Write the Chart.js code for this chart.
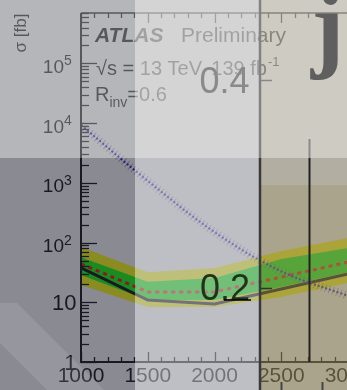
<!DOCTYPE html>
<html>
<head>
<meta charset="utf-8">
<script src="https://cdn.jsdelivr.net/npm/chart.js@4.4.1/dist/chart.umd.min.js"></script>
<style>
  html, body { margin: 0; padding: 0; overflow: hidden; background: #fff; }
  #wrap { position: relative; width: 347px; height: 390px; overflow: hidden; }
  canvas { display: block; }
</style>
</head>
<body>
<div id="wrap"><canvas id="c" width="360" height="390"></canvas></div>
<script>
// Resonance mass points [GeV]
const masses = [1000, 1500, 2000, 2500, 3000];
// 95% CL upper limits on sigma [fb]
const observed = [37.6, 10.9, 9.4, 16.7, 29.7];
const expected = [44, 14.9, 14.9, 26.5, 47];
const expPlus2 = [84, 32, 37.6, 72, 119];
const expPlus1 = [57, 22, 25.5, 53, 81];
const expMinus1 = [28.7, 10.9, 10.9, 18, 32];
const expMinus2 = [19.5, 8.3, 8.3, 12.3, 21];
// Theory prediction [fb]
const theory = [9300, 1080, 150, 33, 12.8];

// Axis ticks and labels
const xTickValues = [1000, 1500, 2000, 2500, 3000];
const xTickLabels = ['1000', '1500', '2000', '2500', '3000'];
const yTickValues = [1, 10, 100, 1000, 10000, 100000];
const yTickBases = ['1', '10', '10', '10', '10', '10'];
const yTickExps = ['', '', '2', '3', '4', '5'];

const X_MIN = 1000, X_MAX = 3000, Y_MIN = 1, Y_MAX = 7e5;
const SANS = '"Liberation Sans", Arial, Helvetica, sans-serif';

const pts = arr => masses.map((m, i) => ({ x: m, y: arr[i] }));

function txt(ctx, s, x, y, font, color, align) {
  ctx.font = font;
  ctx.fillStyle = color;
  ctx.textAlign = align || 'left';
  ctx.textBaseline = 'alphabetic';
  ctx.fillText(s, x, y);
}

const atlasDecor = {
  id: 'atlasDecor',
  beforeDraw(chart) {
    const { ctx, width, height } = chart;
    ctx.save();
    ctx.fillStyle = '#ffffff';
    ctx.fillRect(0, 0, width, height);
    ctx.restore();
  },
  afterDatasetsDraw(chart) {
    const { ctx, chartArea: ca, scales: { x, y } } = chart;
    ctx.save();
    ctx.strokeStyle = '#000';
    // frame
    ctx.lineWidth = 2;
    ctx.beginPath();
    ctx.moveTo(ca.left, ca.top);
    ctx.lineTo(ca.left, ca.bottom);
    ctx.lineTo(ca.right + 12, ca.bottom);
    ctx.stroke();
    ctx.lineWidth = 1.5;
    ctx.beginPath();
    ctx.moveTo(ca.left, ca.top);
    ctx.lineTo(ca.right + 12, ca.top);
    ctx.stroke();

    // x ticks (bottom and mirrored top), pointing inward
    ctx.lineWidth = 1.3;
    for (let v = X_MIN; v <= X_MAX; v += 100) {
      const px = Math.round(x.getPixelForValue(v)) + 0.5;
      const len = v % 500 === 0 ? 10 : 5;
      ctx.beginPath();
      ctx.moveTo(px, ca.bottom); ctx.lineTo(px, ca.bottom - len);
      ctx.moveTo(px, ca.top); ctx.lineTo(px, ca.top + len);
      ctx.stroke();
    }
    // y ticks, log major + minor
    for (const d of yTickValues) {
      for (let m = 1; m <= 9; m++) {
        const v = m * d;
        if (v > Y_MAX) break;
        const py = Math.round(y.getPixelForValue(v)) + 0.5;
        const len = m === 1 ? 16 : 8;
        ctx.beginPath();
        ctx.moveTo(ca.left, py); ctx.lineTo(ca.left + len, py);
        ctx.stroke();
      }
    }

    // y tick labels
    yTickValues.forEach((v, i) => {
      const py = y.getPixelForValue(v);
      if (yTickExps[i] === '') {
        txt(ctx, yTickBases[i], 76.5, py + 8, '22px ' + SANS, '#000', 'right');
      } else {
        txt(ctx, yTickBases[i], 64, py + 9.5, '19px ' + SANS, '#000', 'right');
        txt(ctx, yTickExps[i], 64, py + 2, '14px ' + SANS, '#000', 'left');
      }
    });
    // x tick labels
    xTickValues.forEach((v, i) => {
      txt(ctx, xTickLabels[i], x.getPixelForValue(v), 382, '21px ' + SANS, '#000', 'center');
    });

    // y axis title
    ctx.save();
    ctx.translate(26, 33);
    ctx.rotate(-Math.PI / 2);
    txt(ctx, 'σ [fb]', 0, 0, '17px ' + SANS, '#000', 'center');
    ctx.restore();

    // ATLAS labels
    txt(ctx, 'ATLAS', 95, 42, 'italic bold 21px ' + SANS, '#000');
    txt(ctx, 'Preliminary', 181, 42, '21px ' + SANS, '#000');
    ctx.font = '20px ' + SANS;
    const l1 = '√s = 13 TeV, 139 fb';
    const w1 = ctx.measureText(l1).width;
    txt(ctx, l1, 96, 75, '20px ' + SANS, '#000');
    txt(ctx, '-1', 96 + w1 + 1, 66, '13px ' + SANS, '#000');
    ctx.font = '20px ' + SANS;
    const wR = ctx.measureText('R').width;
    txt(ctx, 'R', 95, 101, '20px ' + SANS, '#000');
    ctx.font = '14px ' + SANS;
    const wI = ctx.measureText('inv').width;
    txt(ctx, 'inv', 95 + wR, 107, '14px ' + SANS, '#000');
    txt(ctx, '=0.6', 95 + wR + wI, 101, '20px ' + SANS, '#000');
    ctx.restore();
  },
  afterDraw(chart) {
    const { ctx } = chart;
    ctx.save();
    // tinted panels laid over the plot
    const panels = [
      [0, 0, 135, 158, 'rgba(138,139,146,0.63)'],
      [135, 0, 125, 158, 'rgba(201,201,203,0.80)'],
      [260, 0, 100, 158, 'rgba(187,183,172,0.725)'],
      [0, 158, 135, 232, 'rgba(45,47,59,0.557)'],
      [135, 158, 125, 232, 'rgba(163,164,171,0.70)'],
      [260, 158, 100, 27, 'rgba(145,139,122,0.7)'],
      [260, 185, 100, 205, 'rgba(130,121,86,0.68)']
    ];
    panels.forEach(p => { ctx.fillStyle = p[4]; ctx.fillRect(p[0], p[1], p[2], p[3]); });
    // light diagonal band in the lower-left corner
    ctx.fillStyle = 'rgba(255,255,255,0.11)';
    ctx.beginPath();
    ctx.moveTo(0, 303); ctx.lineTo(17, 303); ctx.lineTo(104, 390);
    ctx.lineTo(47, 390); ctx.lineTo(0, 343); ctx.closePath();
    ctx.fill();

    // panel divider lines
    const seg = (x0, y0, x1, y1, w, c) => {
      ctx.strokeStyle = c; ctx.lineWidth = w;
      ctx.beginPath(); ctx.moveTo(x0, y0); ctx.lineTo(x1, y1); ctx.stroke();
    };
    seg(260, 0, 260, 158, 2.5, '#828282');
    seg(260, 158, 260, 390, 2.5, '#3a3a3a');
    seg(309.5, 139, 309.5, 158, 2, '#8a8a8a');
    seg(309.5, 158, 309.5, 362, 2, '#222');
    seg(261, 80.5, 272, 80.5, 1.5, '#888');
    seg(261, 288.5, 272, 288.5, 1.5, '#333');
    seg(281.5, 382, 281.5, 390, 2, '#444');
    seg(322.5, 382, 322.5, 390, 2, '#444');

    // panel labels
    txt(ctx, '0.4', 199.5, 93, '36px ' + SANS, '#8a8a8a');
    txt(ctx, '0.2', 200, 300, '36px ' + SANS, '#1f3319');
    seg(224, 300, 251, 300, 2, 'rgba(0,0,0,0.75)');
    txt(ctx, 'j', 311, 59, 'bold 100px "Liberation Serif", "Times New Roman", serif', '#5f5f5f');
    ctx.restore();
  }
};

new Chart(document.getElementById('c'), {
  type: 'line',
  data: {
    datasets: [
      { label: '+2σ', data: pts(expPlus2), borderWidth: 0, pointRadius: 0,
        backgroundColor: '#ffff00', fill: '+1', order: 10 },
      { label: '-2σ', data: pts(expMinus2), borderWidth: 0, pointRadius: 0,
        backgroundColor: '#ffff00', fill: false, order: 10 },
      { label: '+1σ', data: pts(expPlus1), borderWidth: 0, pointRadius: 0,
        backgroundColor: '#00ff00', fill: '+1', order: 9 },
      { label: '-1σ', data: pts(expMinus1), borderWidth: 0, pointRadius: 0,
        backgroundColor: '#00ff00', fill: false, order: 9 },
      { label: 'Expected', data: pts(expected), borderColor: '#ff0000', borderWidth: 3,
        borderDash: [4, 4], pointRadius: 0, fill: false, order: 3 },
      { label: 'Observed', data: pts(observed), borderColor: '#000000', borderWidth: 3,
        pointRadius: 0, fill: false, order: 2 },
      { label: 'Theory band', data: pts(theory), borderColor: 'rgba(80,80,110,0.5)', borderWidth: 8,
        borderDash: [1, 3], pointRadius: 0, fill: false, tension: 0.35, order: 1 },
      { label: 'Theory', data: pts(theory), borderColor: '#1010e0', borderWidth: 2,
        borderDash: [2, 2], pointRadius: 0, fill: false, tension: 0.35, order: 0 }
    ]
  },
  options: {
    responsive: false,
    animation: false,
    events: [],
    layout: { padding: { left: 81, top: 13, right: 12, bottom: 28 } },
    plugins: { legend: { display: false }, title: { display: false }, tooltip: { enabled: false } },
    scales: {
      x: { type: 'linear', min: X_MIN, max: X_MAX, display: false },
      y: { type: 'logarithmic', min: Y_MIN, max: Y_MAX, display: false }
    }
  },
  plugins: [atlasDecor]
});
</script>
</body>
</html>
